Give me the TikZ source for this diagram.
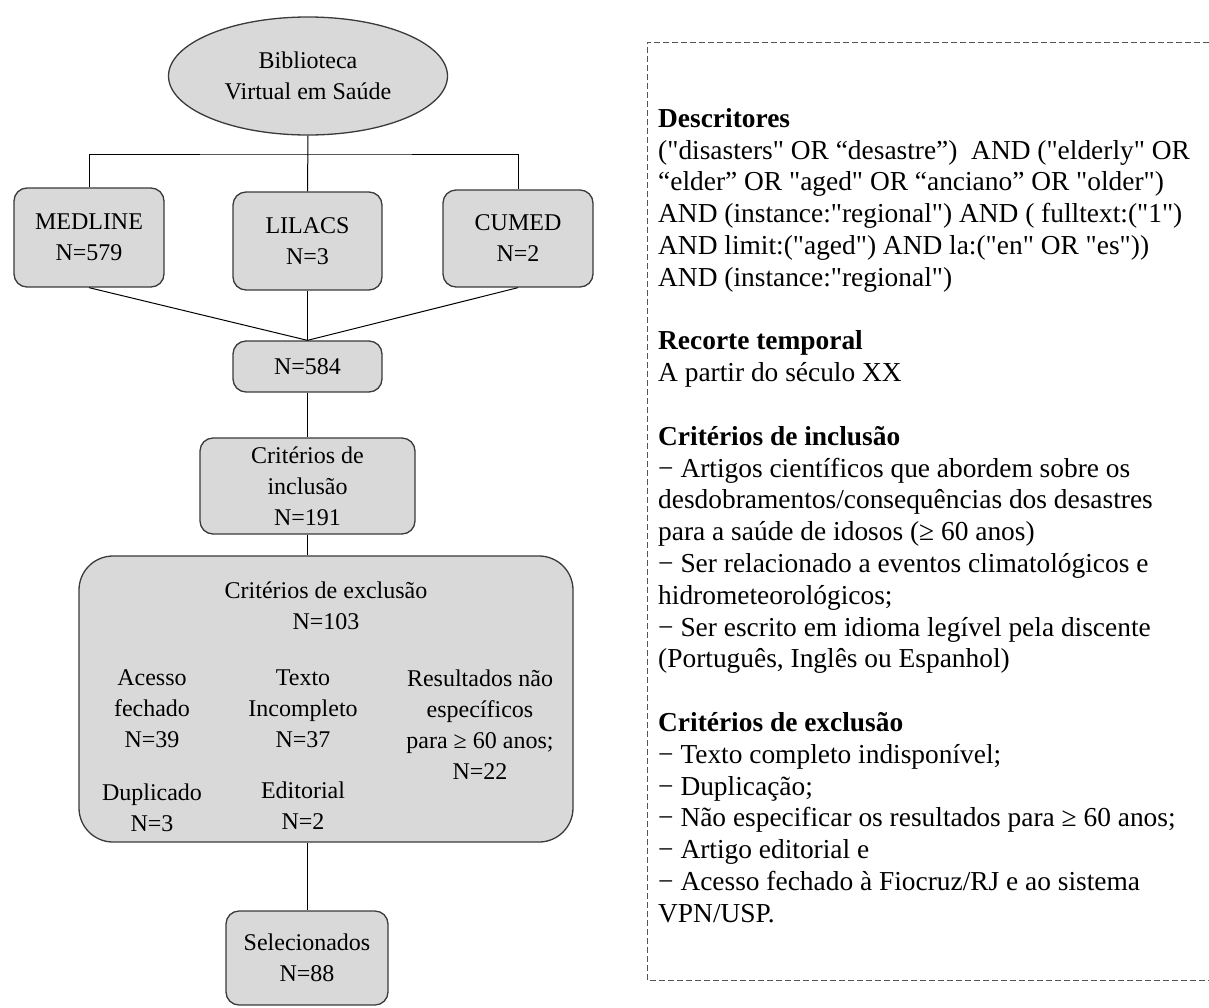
\documentclass[tikz,border=0pt]{standalone}
\usepackage{fontspec}
\setmainfont{Liberation Serif}[Ligatures=TeXOff]
\usetikzlibrary{shapes.geometric}
\definecolor{boxfill}{HTML}{D9D9D9}
\definecolor{boxline}{HTML}{3A3A3A}
\definecolor{dashline}{HTML}{555555}
\newcommand\leftfnt{\fontsize{24}{31}\selectfont}
\newcommand\rightfnt{\fontsize{27.4}{31.8}\selectfont}
\begin{document}
\begin{tikzpicture}[x=1pt,y=-1pt,
  box/.style={draw=boxline, fill=boxfill, line width=1.3pt, rounded corners=13pt,
    inner sep=0pt, align=center, font=\leftfnt},
  oval/.style={draw=boxline, fill=boxfill, line width=1.3pt, ellipse,
    inner sep=0pt, align=center, font=\leftfnt},
  txt/.style={inner sep=0pt, align=center, font=\leftfnt},
  conn/.style={draw=black, line width=1pt},
  frame/.style={draw=dashline, line width=1pt, dash pattern=on 6pt off 3pt}]
\useasboundingbox (0,0) rectangle (1209,1007);

% main nodes
\node[oval, minimum width=279pt, minimum height=118pt] (bvs) at (308,76) {Biblioteca\\Virtual em Saúde};
\node[box, minimum width=150pt, minimum height=99pt] (medline) at (89,237.5) {MEDLINE\\N=579};
\node[box, minimum width=149pt, minimum height=98pt] (lilacs) at (307.5,241) {LILACS\\N=3};
\node[box, minimum width=150pt, minimum height=97pt] (cumed) at (518,238.5) {CUMED\\N=2};
\node[box, minimum width=149pt, minimum height=51pt] (n584) at (307.5,366.5) {N=584};
\node[box, minimum width=215pt, minimum height=96pt] (incl) at (307.5,486) {Critérios de\\inclusão\\N=191};
\node[box, rounded corners=34pt, minimum width=494pt, minimum height=286pt] (excl) at (326,699) {};
\node[box, minimum width=162pt, minimum height=94pt] (sel) at (307,958) {Selecionados\\N=88};

% texts inside the exclusion box
\node[txt] (extitle) at (326,606) {Critérios de exclusão\\N=103};
\node[txt] (acesso) at (152,708.5) {Acesso\\fechado\\N=39};
\node[txt] (texto) at (303,708.5) {Texto\\Incompleto\\N=37};
\node[txt] (result) at (480,724.5) {Resultados não\\específicos\\para ≥ 60 anos;\\N=22};
\node[txt] (dup) at (152,808) {Duplicado\\N=3};
\node[txt] (edit) at (303,806) {Editorial\\N=2};

% connectors
\coordinate (bar) at (308,154);
\draw[conn] (medline.north) |- (bar) -| (cumed.north);
\draw[conn] (bvs.south) -- (lilacs.north);
\draw[conn] (medline.south) -- (n584.north);
\draw[conn] (cumed.south) -- (n584.north);
\draw[conn] (lilacs.south) -- (n584.north);
\draw[conn] (n584.south) -- (incl.north);
\draw[conn] (incl.south) -- (incl.south |- excl.north);
\draw[conn] (sel.north |- excl.south) -- (sel.north);

% dashed frame on the right
\draw[frame] (1209,42) -- (647,42) -- (647,980) -- (1209,980);

\node[anchor=north west, inner sep=0pt, align=left, font=\rightfnt] (crit) at (658,108) {%
\textbf{Descritores}\\
("disasters" OR “desastre”)\ \ AND ("elderly" OR\\
“elder” OR "aged" OR “anciano” OR "older")\\
AND (instance:"regional") AND ( fulltext:("1")\\
AND limit:("aged") AND la:("en" OR "es"))\\
AND (instance:"regional")\\[31.8pt]
\textbf{Recorte temporal}\\
A partir do século XX\\[31.8pt]
\textbf{Critérios de inclusão}\\
− Artigos científicos que abordem sobre os\\
desdobramentos/consequências dos desastres\\
para a saúde de idosos (≥ 60 anos)\\
− Ser relacionado a eventos climatológicos e\\
hidrometeorológicos;\\
− Ser escrito em idioma legível pela discente\\
(Português, Inglês ou Espanhol)\\[31.8pt]
\textbf{Critérios de exclusão}\\
− Texto completo indisponível;\\
− Duplicação;\\
− Não especificar os resultados para ≥ 60 anos;\\
− Artigo editorial e\\
− Acesso fechado à Fiocruz/RJ e ao sistema\\
VPN/USP.};
\end{tikzpicture}
\end{document}
